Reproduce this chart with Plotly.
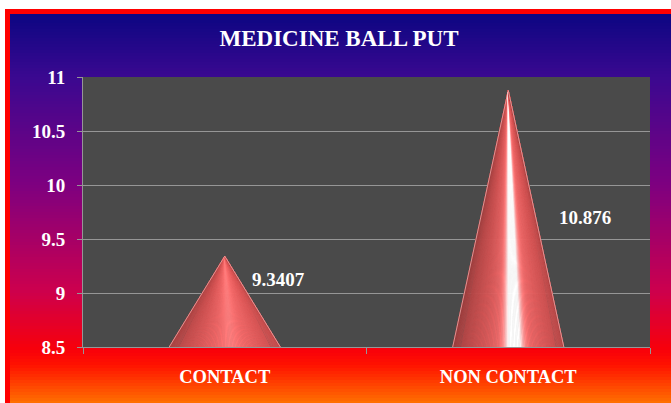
import numpy as np
import plotly.graph_objects as go

# ---- data ----
categories = ["CONTACT", "NON CONTACT"]
values = [9.3407, 10.876]
y_ticks = [8.5, 9, 9.5, 10, 10.5, 11]

# ---- layout geometry (pixels) ----
W, H = 671, 403
ML, MR, MT, MB = 83, 21, 77, 56
PW, PH = W - ML - MR, H - MT - MB
Y0, Y1 = 8.5, 11.0
X0, X1 = -0.5, 1.5
CONE_HALF = 0.196          # half base width in category units

FONT = "Liberation Serif, Times New Roman, serif"
GRID = "#969696"


def px_to_paper_x(px):
    return (px - ML) / PW


def px_to_paper_y(py):
    return (H - MB - py) / PH


def hex_to_rgb(h):
    h = h.lstrip("#")
    return np.array([int(h[i:i + 2], 16) for i in (0, 2, 4)], dtype=float)


# background gradient stops: (pixel row, colour)
bg_stops = [(14, "#0c0682"), (77, "#3a0890"), (185, "#7e0080"),
            (290, "#cc004e"), (350, "#f8000a"), (365, "#ff1200"), (403, "#ff7000")]


def bg_colour(py):
    ys = [s[0] for s in bg_stops]
    cols = [hex_to_rgb(s[1]) for s in bg_stops]
    c = np.array([np.interp(py, ys, [cc[k] for cc in cols]) for k in range(3)])
    return "rgb(%d,%d,%d)" % tuple(np.round(c))


shapes = []
step = 3
for py in range(14, H, step):
    shapes.append(dict(type="rect", xref="paper", yref="paper", layer="below",
                       x0=px_to_paper_x(10), x1=px_to_paper_x(W + 2),
                       y0=px_to_paper_y(py + step + 0.5), y1=px_to_paper_y(py),
                       fillcolor=bg_colour(py + step / 2), line=dict(width=0)))
# red frame (left and top edges)
shapes.append(dict(type="rect", xref="paper", yref="paper", layer="below",
                   x0=px_to_paper_x(5), x1=px_to_paper_x(10),
                   y0=px_to_paper_y(H + 2), y1=px_to_paper_y(9),
                   fillcolor="#ff0000", line=dict(width=0)))
shapes.append(dict(type="rect", xref="paper", yref="paper", layer="below",
                   x0=px_to_paper_x(5), x1=px_to_paper_x(W + 2),
                   y0=px_to_paper_y(14), y1=px_to_paper_y(9),
                   fillcolor="#ff0000", line=dict(width=0)))
# plot area
shapes.append(dict(type="rect", xref="paper", yref="paper", layer="below",
                   x0=0, x1=1, y0=0, y1=1, fillcolor="#4a4a4a", line=dict(width=0)))


def unit(v):
    v = np.asarray(v, dtype=float)
    return v / np.linalg.norm(v)


# simple Phong-style lighting for the cone surfaces
LIGHT = unit([0.25, 0.7, 1.0])
HALF = unit(LIGHT + np.array([0, 0, 1.0]))
CONE_RGB = np.array([222, 88, 88], dtype=float)


def cone_shade(phi, w, h):
    n = unit([h * np.sin(phi), w, h * np.cos(phi)])
    diff = (float(n @ LIGHT) + 0.2) / 1.2
    diff = max(0.0, diff)
    s = max(0.0, float(n @ HALF))
    spec = 1.4 * s ** 100 + 0.1 * s ** 10
    c = CONE_RGB * (0.58 + 0.46 * diff) + 255 * spec
    c = np.clip(c, 0, 255)
    return "rgb(%d,%d,%d)" % tuple(np.round(c))


fig = go.Figure()
px_per_x = PW / (X1 - X0)
px_per_y = PH / (Y1 - Y0)
n_slices = 120
phis = np.linspace(-np.pi / 2, np.pi / 2, n_slices + 1)

for i, v in enumerate(values):
    w_px = CONE_HALF * px_per_x
    h_px = (v - Y0) * px_per_y
    for a, b in zip(phis[:-1], phis[1:]):
        xa = i + CONE_HALF * np.sin(a)
        xb = i + CONE_HALF * np.sin(b)
        col = cone_shade((a + b) / 2, w_px, h_px)
        fig.add_trace(go.Scatter(x=[i, xa, xb, i], y=[v, Y0, Y0, v], mode="lines",
                                 fill="toself", fillcolor=col,
                                 line=dict(color=col, width=0.6),
                                 hoverinfo="skip", showlegend=False))
    # pale rim along the silhouette
    fig.add_trace(go.Scatter(x=[i - CONE_HALF, i, i + CONE_HALF], y=[Y0, v, Y0],
                             mode="lines", line=dict(color="rgba(240,170,170,0.8)", width=1),
                             hoverinfo="skip", showlegend=False))

# value labels
label_shift = [(54, -23), (77, -127)]
annotations = []
for i, v in enumerate(values):
    dx, dy = label_shift[i]
    annotations.append(dict(x=i, y=v, xref="x", yref="y", text=f"{v:g}",
                            showarrow=False, xshift=dx, yshift=dy,
                            font=dict(family=FONT, size=19, color="white", weight="bold")))

fig.update_layout(
    width=W, height=H,
    margin=dict(l=ML, r=MR, t=MT, b=MB),
    paper_bgcolor="white",
    plot_bgcolor="#4a4a4a",
    showlegend=False,
    shapes=shapes,
    annotations=annotations,
    title=dict(text="MEDICINE BALL PUT", x=339 / W, xref="container", xanchor="center",
               y=1 - 38 / H, yref="container", yanchor="middle",
               font=dict(family=FONT, size=23, color="white", weight="bold")),
    xaxis=dict(range=[X0, X1], tickvals=list(range(len(categories))), ticktext=categories,
               ticks="", showgrid=False, zeroline=False,
               showline=True, linecolor=GRID, linewidth=1,
               minor=dict(tickvals=[-0.5, 0.5, 1.5], ticks="outside", ticklen=6,
                          tickcolor=GRID, showgrid=False),
               ticklabelstandoff=13,
               tickfont=dict(family=FONT, size=18.5, color="white", weight="bold"),
               fixedrange=True),
    yaxis=dict(range=[Y0, Y1], tickvals=y_ticks, ticktext=[f"{t:g}" for t in y_ticks],
               ticks="outside", ticklen=5, tickcolor=GRID,
               showgrid=True, gridcolor=GRID, gridwidth=1, zeroline=False,
               showline=True, linecolor=GRID, linewidth=1,
               ticklabelstandoff=8,
               tickfont=dict(family=FONT, size=19, color="white", weight="bold"),
               fixedrange=True),
)

fig.write_html("out.html", config={"displayModeBar": False})
